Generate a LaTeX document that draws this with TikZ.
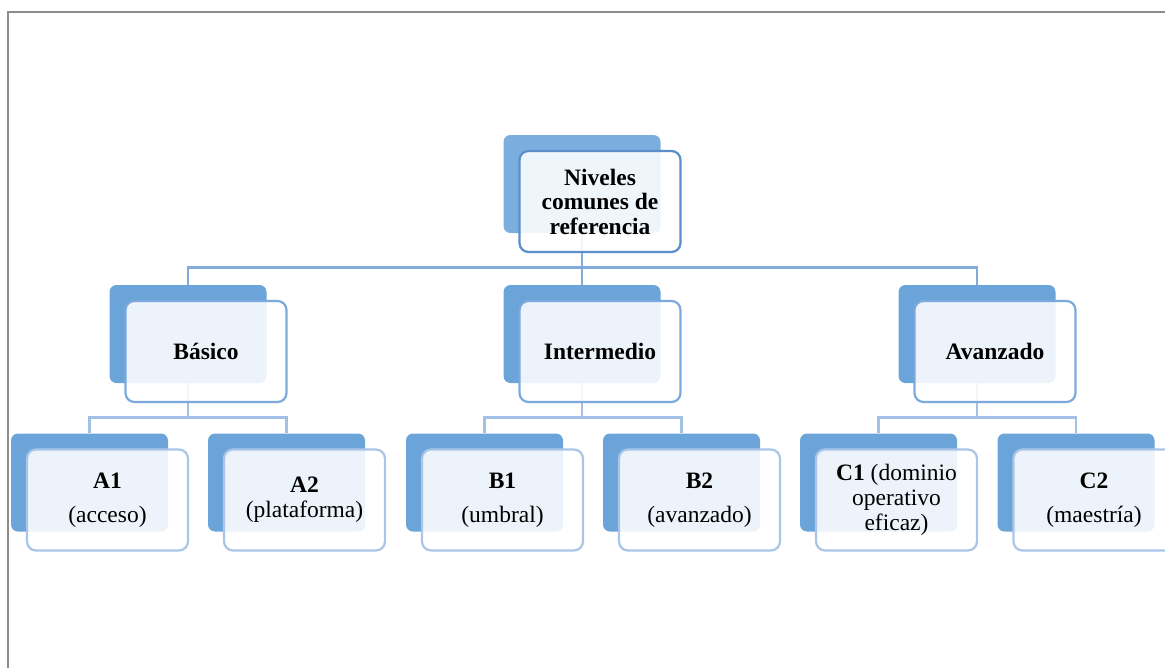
\documentclass[tikz,border=0pt]{standalone}
\usepackage{fontspec}
\setmainfont{Liberation Serif}

\definecolor{topback}{HTML}{7BAEDF}
\definecolor{cardback}{HTML}{6AA4D9}
\definecolor{topedge}{HTML}{5B8FC9}
\definecolor{midedge}{HTML}{7CA9DD}
\definecolor{lowedge}{HTML}{A9C6E9}
\definecolor{toplinkc}{HTML}{82AADB}
\definecolor{lowlinkc}{HTML}{A3C1E6}
\definecolor{framegray}{HTML}{8C8C8C}

\tikzset{
  backcard/.style={fill=cardback, rounded corners=7pt, minimum width=157pt,
    minimum height=98pt, inner sep=0pt},
  frontcard/.style={draw=lowedge, line width=2.2pt, fill=white, fill opacity=0.88,
    text opacity=1, rounded corners=9pt, minimum width=161pt, minimum height=101pt,
    inner sep=2pt, align=center},
  toplink/.style={draw=toplinkc, line width=2.6pt},
  lowlink/.style={draw=lowlinkc, line width=2.6pt},
}

\begin{document}
\begin{tikzpicture}[x=1pt, y=-1pt,
    every node/.append style={font=\fontsize{23.5}{25}\selectfont}]

    \def\dx{18}       % front card sits down-right of its back card
    \def\dy{17.5}
    \def\bus{34}      % drop from a back card to the bus line

    \useasboundingbox (0,0) rectangle (1165,667);
    \draw[framegray, line width=2pt] (1166,12) -- (8,12) -- (8,668);

    % back cards
    \node[backcard, fill=topback] (nivelesB) at (582,184) {};
    \node[backcard] (basicoB)     at (188,334) {};
    \node[backcard] (intermedioB) at (582,334) {};
    \node[backcard] (avanzadoB)   at (977,334) {};
    \node[backcard] (aunoB)  at (89.5,482.5) {};
    \node[backcard] (adosB)  at (286.5,482.5) {};
    \node[backcard] (bunoB)  at (484.5,482.5) {};
    \node[backcard] (bdosB)  at (681.5,482.5) {};
    \node[backcard] (cunoB)  at (878.5,482.5) {};
    \node[backcard] (cdosB)  at (1076,482.5) {};

    % connectors
    \draw[toplink] (nivelesB.south) -- ++(0,\bus) -| (basicoB.north);
    \draw[toplink] (nivelesB.south) -- ++(0,\bus) -| (avanzadoB.north);
    \draw[toplink] (nivelesB.south) -- (intermedioB.north);
    \draw[lowlink] (basicoB.south) -- ++(0,\bus) -| (aunoB.north);
    \draw[lowlink] (basicoB.south) -- ++(0,\bus) -| (adosB.north);
    \draw[lowlink] (intermedioB.south) -- ++(0,\bus) -| (bunoB.north);
    \draw[lowlink] (intermedioB.south) -- ++(0,\bus) -| (bdosB.north);
    \draw[lowlink] (avanzadoB.south) -- ++(0,\bus) -| (cunoB.north);
    \draw[lowlink] (avanzadoB.south) -- ++(0,\bus) -| (cdosB.north);

    % front cards
    \node[frontcard, draw=topedge, font=\fontsize{23.5}{24.5}\selectfont\bfseries]
        (niveles) at ([shift={(\dx,\dy)}]nivelesB) {Niveles\\comunes de\\referencia};
    \node[frontcard, draw=midedge, font=\fontsize{23.5}{25}\selectfont\bfseries]
        (basico) at ([shift={(\dx,\dy)}]basicoB) {Básico};
    \node[frontcard, draw=midedge, font=\fontsize{23.5}{25}\selectfont\bfseries]
        (intermedio) at ([shift={(\dx,\dy)}]intermedioB) {Intermedio};
    \node[frontcard, draw=midedge, font=\fontsize{23.5}{25}\selectfont\bfseries]
        (avanzado) at ([shift={(\dx,\dy)}]avanzadoB) {Avanzado};

    \node[frontcard] (auno) at ([shift={(\dx,\dy)}]aunoB) {\textbf{A1}\\[9pt](acceso)};
    \node[frontcard] (ados) at ([shift={(\dx,\dy)}]adosB) {\textbf{A2}\\(plataforma)};
    \node[frontcard] (buno) at ([shift={(\dx,\dy)}]bunoB) {\textbf{B1}\\[9pt](umbral)};
    \node[frontcard] (bdos) at ([shift={(\dx,\dy)}]bdosB) {\textbf{B2}\\[9pt](avanzado)};
    \node[frontcard] (cuno) at ([shift={(\dx,\dy)}]cunoB) {\textbf{C1} (dominio\\operativo\\eficaz)};
    \node[frontcard] (cdos) at ([shift={(\dx,\dy)}]cdosB) {\textbf{C2}\\[9pt](maestría)};

\end{tikzpicture}
\end{document}
